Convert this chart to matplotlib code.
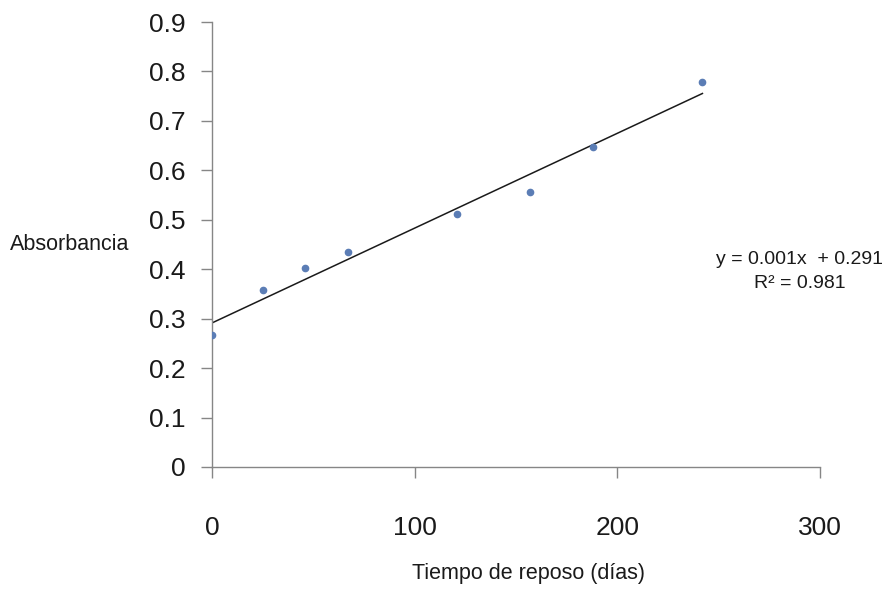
import numpy as np
import matplotlib.pyplot as plt

# Datos
dias = [0, 25, 46, 67, 121, 157, 188, 242]
absorbancia = [0.267, 0.357, 0.402, 0.434, 0.511, 0.556, 0.647, 0.779]

xticks = [0, 100, 200, 300]
yticks = [0, 0.1, 0.2, 0.3, 0.4, 0.5, 0.6, 0.7, 0.8, 0.9]
ytick_labels = ['0', '0.1', '0.2', '0.3', '0.4', '0.5', '0.6', '0.7', '0.8', '0.9']

fig = plt.figure(figsize=(8.94, 5.9), dpi=100)
ax = fig.add_axes([0.2371, 0.2085, 0.6801, 0.7542])

# Puntos
ax.plot(dias, absorbancia, 'o', color='#5B7DB5', markersize=4.5, zorder=3)

# Línea de tendencia lineal
m, b = np.polyfit(dias, absorbancia, 1)
xs = np.array([dias[0], dias[-1]])
ax.plot(xs, m * xs + b, color='#1a1a1a', linewidth=1.1, zorder=2)

ax.set_xlim(0, 300)
ax.set_ylim(0, 0.9)
ax.set_xticks(xticks)
ax.set_yticks(yticks)
ax.set_yticklabels(ytick_labels)

for s in ['top', 'right']:
    ax.spines[s].set_visible(False)
for s in ['left', 'bottom']:
    ax.spines[s].set_color('#868686')
    ax.spines[s].set_linewidth(1.0)

ax.tick_params(axis='both', direction='out', length=8, width=1.0, color='#868686',
               labelsize=19, labelcolor='#1a1a1a')
ax.tick_params(axis='y', pad=11)
ax.tick_params(axis='x', pad=27)
for lab in ax.get_xticklabels() + ax.get_yticklabels():
    lab.set_fontfamily('Liberation Sans')

# Etiquetas
fig.text(10 / 894, 1 - 245 / 590, 'Absorbancia', fontsize=15.5, family='Liberation Sans',
         ha='left', va='center', color='#1a1a1a')
fig.text(528 / 894, 1 - 574 / 590, 'Tiempo de reposo (días)', fontsize=15.5, family='Liberation Sans',
         ha='center', va='center', color='#1a1a1a')
fig.text(800 / 894, 1 - 260 / 590, 'y = 0.001x  + 0.291', fontsize=14, family='Liberation Sans',
         ha='center', va='center', color='#1a1a1a')
fig.text(800 / 894, 1 - 283 / 590, 'R² = 0.981', fontsize=14, family='Liberation Sans',
         ha='center', va='center', color='#1a1a1a')

fig.savefig('out.png', dpi=100)
